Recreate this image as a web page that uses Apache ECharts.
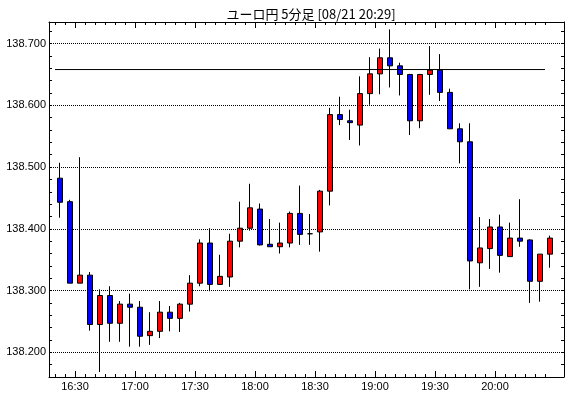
<!DOCTYPE html>
<html>
<head>
<meta charset="utf-8">
<title>ユーロ円 5分足</title>
<script src="https://cdn.jsdelivr.net/npm/echarts@6/dist/echarts.min.js"></script>
<style>
	html, body { margin: 0; padding: 0; background: #fff; }
	#main { width: 570px; height: 398px; }
</style>
</head>
<body>
<div id="main"></div>
<script>
"use strict";

var times = [
	"16:20","16:25","16:30","16:35","16:40","16:45","16:50","16:55",
	"17:00","17:05","17:10","17:15","17:20","17:25","17:30","17:35","17:40","17:45","17:50","17:55",
	"18:00","18:05","18:10","18:15","18:20","18:25","18:30","18:35","18:40","18:45","18:50","18:55",
	"19:00","19:05","19:10","19:15","19:20","19:25","19:30","19:35","19:40","19:45","19:50","19:55",
	"20:00","20:05","20:10","20:15","20:20","20:25"
];
var openVals = [
	138.482,138.444,138.312,138.325,138.245,138.292,138.247,138.278,
	138.273,138.227,138.234,138.265,138.255,138.278,138.312,138.377,138.310,138.322,138.380,138.401,
	138.432,138.375,138.371,138.377,138.425,138.392,138.395,138.461,138.585,138.575,138.568,138.619,
	138.651,138.677,138.664,138.650,138.575,138.650,138.657,138.621,138.562,138.541,138.345,138.368,
	138.403,138.355,138.385,138.382,138.315,138.359
];
var closeVals = [
	138.443,138.312,138.325,138.245,138.292,138.247,138.278,138.273,
	138.226,138.234,138.265,138.255,138.278,138.312,138.377,138.310,138.323,138.380,138.401,138.434,
	138.374,138.371,138.377,138.425,138.391,138.392,138.461,138.585,138.577,138.572,138.619,138.651,
	138.677,138.664,138.650,138.575,138.650,138.657,138.621,138.562,138.541,138.348,138.369,138.403,
	138.357,138.385,138.380,138.315,138.359,138.385
];
var lowVals = [
	138.418,138.312,138.312,138.235,138.168,138.217,138.217,138.209,
	138.209,138.212,138.223,138.234,138.233,138.266,138.307,138.299,138.309,138.306,138.370,138.397,
	138.373,138.371,138.360,138.370,138.374,138.374,138.363,138.438,138.568,138.544,138.535,138.601,
	138.618,138.629,138.616,138.552,138.563,138.617,138.607,138.562,138.506,138.302,138.306,138.335,
	138.329,138.355,138.371,138.280,138.282,138.337
];
var highVals = [
	138.507,138.447,138.516,138.330,138.302,138.307,138.283,138.295,
	138.283,138.265,138.283,138.275,138.280,138.325,138.383,138.401,138.358,138.392,138.444,138.473,
	138.441,138.416,138.410,138.428,138.470,138.424,138.463,138.596,138.614,138.593,138.647,138.678,
	138.692,138.723,138.669,138.651,138.651,138.696,138.683,138.627,138.571,138.571,138.419,138.416,
	138.423,138.410,138.448,138.383,138.359,138.389
];
var xLabels = ["16:30","17:00","17:30","18:00","18:30","19:00","19:30","20:00"];
var yLabels = [138.2, 138.3, 138.4, 138.5, 138.6, 138.7];
var refLevel = 138.658;
var refSpan = [0, 49];

var yMin = 138.16, yMax = 138.735;

$main();

function $main() {
	var chart = echarts.init(document.getElementById("main"));
	var candles = [],
		i;
	for (i = 0; i < times.length; i++) {
		candles.push([openVals[i], closeVals[i], lowVals[i], highVals[i]]);
	}
	var minorIdx = times.map(function (t, k) { return k; });
	var majorIdx = xLabels.map(function (t) { return times.indexOf(t); });
	var black = { color: "#000", width: 1 };
	var font = { fontFamily: "Liberation Sans", fontSize: 11, color: "#000" };

	// tick-only axes laid over the candle grid
	function tickAxis(pos, vals, len, withLabels) {
		return {
			type: "value", gridIndex: 1, position: pos, min: 0, max: times.length,
			axisLine: { show: false, onZero: false },
			splitLine: { show: false },
			axisTick: { show: true, inside: true, length: len, customValues: vals, lineStyle: black },
			axisLabel: withLabels ? {
				show: true, customValues: vals, margin: 4,
				fontFamily: font.fontFamily, fontSize: font.fontSize, color: font.color,
				formatter: function (v) { return times[v]; }
			} : { show: false }
		};
	}
	function frameX(pos) {
		return {
			type: "value", gridIndex: 0, position: pos, min: 0, max: 1,
			axisLine: { show: true, onZero: false, lineStyle: black },
			axisTick: { show: false }, axisLabel: { show: false }, splitLine: { show: false }
		};
	}
	function frameY(pos, withLabels) {
		return {
			type: "value", gridIndex: 0, position: pos, min: yMin, max: yMax, interval: 0.02,
			axisLine: { show: true, onZero: false, lineStyle: black },
			axisTick: { show: true, inside: true, length: 3, lineStyle: black },
			splitLine: { show: false },
			axisLabel: withLabels ? {
				show: true, customValues: yLabels, margin: 3,
				fontFamily: font.fontFamily, fontSize: font.fontSize, color: font.color,
				formatter: function (v) { return v.toFixed(3); }
			} : { show: false }
		};
	}

	var option = {
		animation: false,
		backgroundColor: "#fff",
		title: {
			text: "ユーロ円 5分足 [08/21 20:29]",
			left: 306, top: 3, textAlign: "center",
			textStyle: { fontFamily: "Noto Sans CJK JP", fontSize: 13, fontWeight: "normal", color: "#000" }
		},
		grid: [
			{ left: 49, right: 6, top: 22, bottom: 21 },
			{ left: 55, right: 15, top: 22, bottom: 21 }
		],
		xAxis: [
			{ type: "category", gridIndex: 1, data: times, show: false },
			tickAxis("bottom", minorIdx, 3, false),
			tickAxis("bottom", majorIdx, 6, true),
			tickAxis("top", minorIdx, 3, false),
			tickAxis("top", majorIdx, 6, false),
			frameX("bottom"),
			frameX("top")
		],
		yAxis: [
			frameY("left", true),
			frameY("right", false),
			{ type: "value", gridIndex: 1, min: yMin, max: yMax, show: false, axisLine: { onZero: false } }
		],
		series: [
			{
				type: "line", xAxisIndex: 5, yAxisIndex: 0, data: [], silent: true,
				markLine: {
					silent: true, symbol: ["none", "none"], label: { show: false },
					lineStyle: { type: "dotted", color: "#000", width: 1 },
					data: yLabels.map(function (v) { return { yAxis: v }; })
				}
			},
			{
				type: "candlestick", xAxisIndex: 0, yAxisIndex: 2, data: candles, barWidth: 6,
				itemStyle: {
					color: "#ff0000", color0: "#0000ff",
					borderColor: "#000", borderColor0: "#000", borderColorDoji: "#000", borderWidth: 1
				}
			},
			{
				type: "line", xAxisIndex: 1, yAxisIndex: 2, symbol: "none", silent: true,
				data: refSpan.map(function (x) { return [x, refLevel]; }),
				lineStyle: { color: "#000", width: 1 }
			}
		]
	};
	chart.setOption(option);
}
</script>
</body>
</html>
